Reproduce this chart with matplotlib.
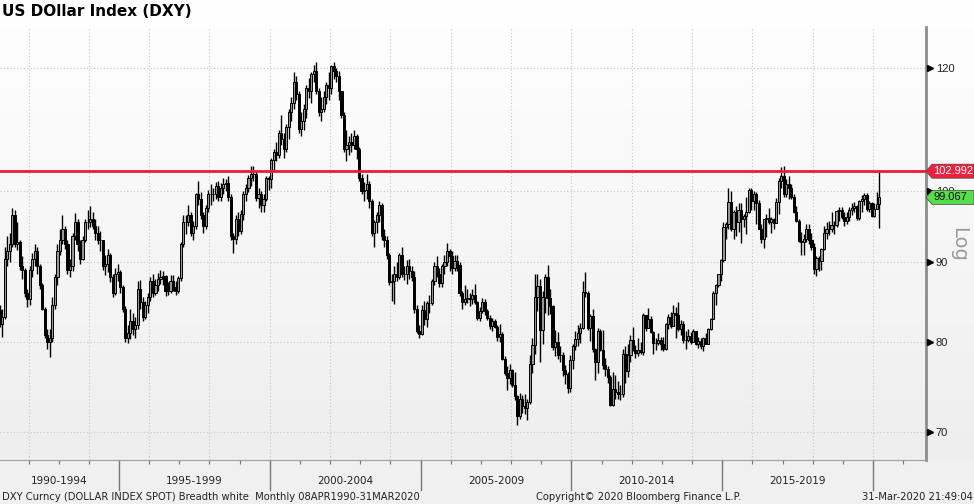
import numpy as np
import matplotlib
matplotlib.use("Agg")
import matplotlib.pyplot as plt
from matplotlib.patches import Polygon
from matplotlib.transforms import blended_transform_factory
from matplotlib.colors import LinearSegmentedColormap
from matplotlib.ticker import NullLocator, NullFormatter, FixedFormatter

# monthly candles, Jan 1991 .. Mar 2020 (open = previous close)
first_year = 1991
first_open = 83.9
close = [
    82.2, 83.0, 90.5, 91.5, 92.5, 96.5, 92.5, 92.8, 89.5, 89.0, 86.0, 85.2,
    89.0, 90.5, 91.5, 89.5, 87.0, 84.0, 80.8, 80.0, 80.5, 84.5, 88.0, 91.5,
    93.0, 94.5, 92.5, 89.0, 89.5, 93.5, 95.5, 92.5, 90.5, 93.0, 95.5, 95.5,
    96.0, 95.0, 94.0, 93.0, 93.0, 89.5, 89.8, 91.0, 88.0, 86.0, 88.5, 88.7,
    86.8, 84.0, 80.5, 81.0, 82.5, 81.5, 82.0, 86.5, 84.8, 83.0, 84.5, 85.5,
    87.5, 86.0, 87.0, 87.8, 88.0, 88.2, 86.2, 86.3, 87.5, 86.8, 86.3, 87.9,
    92.5, 95.5, 95.5, 96.5, 94.0, 95.0, 99.5, 98.8, 96.5, 95.0, 97.5, 99.6,
    99.5, 99.5, 100.8, 99.2, 100.5, 101.0, 101.2, 99.2, 93.5, 93.2, 96.0, 94.2,
    96.6, 99.5, 100.5, 102.0, 102.5, 102.6, 99.0, 99.5, 98.0, 98.8, 102.0, 101.8,
    104.7, 106.0, 105.5, 109.0, 108.0, 106.5, 110.0, 112.5, 114.0, 117.5, 115.5, 109.6,
    111.0, 113.0, 116.5, 116.0, 119.0, 119.5, 116.0, 112.5, 113.0, 115.0, 117.0, 116.5,
    120.3, 119.5, 118.5, 116.0, 112.0, 106.5, 107.0, 107.5, 107.0, 108.5, 106.5, 102.0,
    100.0, 100.2, 101.0, 98.5, 94.0, 95.5, 96.5, 98.0, 93.5, 93.0, 91.0, 87.4,
    87.5, 88.5, 88.0, 91.0, 88.5, 88.5, 89.5, 88.9, 88.0, 84.0, 81.3, 80.9,
    83.8, 82.8, 84.7, 84.7, 87.5, 89.5, 88.5, 87.3, 89.5, 90.0, 91.5, 90.9,
    89.3, 90.2, 89.7, 86.0, 84.8, 85.2, 85.4, 85.2, 85.8, 84.9, 82.9, 83.7,
    84.9, 83.7, 82.9, 81.9, 82.5, 81.8, 80.6, 80.9, 78.0, 76.4, 75.8, 76.7,
    75.0, 73.8, 71.7, 73.5, 72.8, 72.5, 73.2, 77.4, 79.6, 85.5, 86.9, 81.4,
    85.5, 88.0, 85.3, 84.4, 79.4, 80.0, 78.5, 78.4, 76.7, 76.3, 74.7, 77.9,
    79.5, 80.3, 81.0, 81.7, 86.1, 86.0, 81.6, 83.1, 79.1, 77.6, 81.3, 79.0,
    77.3, 76.8, 75.9, 72.9, 74.6, 74.3, 74.0, 74.0, 78.6, 76.6, 78.4, 80.2,
    79.0, 78.7, 79.0, 78.8, 83.2, 81.6, 82.7, 81.2, 79.9, 79.9, 80.2, 79.8,
    79.2, 82.2, 83.0, 81.9, 83.5, 83.2, 81.5, 82.1, 80.2, 80.2, 80.7, 80.0,
    81.3, 79.7, 80.1, 79.5, 80.4, 79.8, 81.5, 82.8, 86.0, 87.0, 88.4, 90.3,
    94.8, 95.3, 98.4, 94.6, 96.9, 95.5, 97.3, 96.0, 96.4, 97.0, 100.2, 98.6,
    99.6, 98.2, 94.6, 93.1, 95.9, 96.1, 95.5, 96.0, 95.4, 98.4, 101.5, 102.2,
    99.5, 101.1, 100.4, 99.1, 97.0, 95.6, 92.9, 92.7, 93.1, 94.5, 93.0, 92.1,
    89.1, 90.6, 90.2, 91.8, 94.0, 94.5, 94.5, 95.1, 95.1, 97.1, 97.3, 96.2,
    95.6, 96.2, 97.3, 97.5, 97.8, 96.1, 98.5, 98.9, 99.4, 97.4, 98.3, 96.4,
    97.4, 98.1, 99.067,
]
high = [
    84.5, 84.0, 92.0, 93.5, 94.0, 97.5, 97.3, 95.5, 93.0, 90.8, 89.2, 86.5,
    89.5, 91.2, 92.5, 92.0, 89.8, 87.3, 84.2, 81.5, 81.5, 85.5, 88.4, 92.5,
    94.5, 96.5, 95.0, 93.0, 90.5, 94.0, 96.8, 96.0, 93.0, 93.5, 96.0, 97.2,
    97.8, 97.0, 96.0, 95.0, 94.2, 93.0, 91.0, 91.8, 91.2, 88.5, 89.2, 89.8,
    89.0, 87.0, 84.3, 82.0, 84.0, 83.5, 83.0, 87.5, 87.7, 85.5, 85.0, 86.0,
    88.0, 88.5, 87.8, 88.6, 89.0, 88.8, 88.3, 87.4, 88.3, 88.3, 87.5, 88.2,
    92.8, 96.5, 96.5, 98.0, 97.0, 95.6, 99.7, 101.5, 99.8, 97.0, 98.0, 100.2,
    101.0, 100.5, 101.3, 101.5, 101.2, 102.0, 101.8, 102.2, 99.5, 94.0, 96.5, 97.0,
    97.2, 100.0, 101.0, 102.4, 103.8, 103.8, 103.0, 100.5, 100.0, 99.5, 102.3, 102.3,
    105.0, 106.5, 107.5, 109.5, 112.0, 109.0, 110.5, 113.0, 115.0, 119.2, 118.5, 116.0,
    112.5, 113.8, 117.0, 118.2, 119.3, 120.5, 121.0, 116.5, 115.0, 116.0, 117.5, 119.2,
    120.5, 121.0, 120.0, 119.5, 116.0, 112.5, 109.5, 108.5, 109.0, 109.5, 108.8, 106.8,
    102.5, 101.3, 102.5, 101.5, 98.8, 95.8, 97.0, 98.5, 98.3, 94.5, 93.5, 91.2,
    88.5, 89.5, 90.0, 91.3, 92.0, 89.5, 90.3, 90.5, 89.5, 88.8, 84.5, 82.0,
    84.5, 85.0, 85.0, 85.7, 87.8, 90.0, 90.8, 89.3, 89.8, 91.0, 92.6, 91.8,
    91.5, 91.0, 91.0, 90.0, 86.3, 87.0, 86.5, 86.0, 86.5, 87.2, 85.0, 84.2,
    85.4, 85.2, 84.0, 83.2, 82.9, 82.8, 82.0, 82.1, 81.2, 78.3, 77.2, 77.4,
    76.9, 76.5, 73.9, 74.2, 73.9, 74.0, 73.5, 78.5, 80.4, 88.5, 88.4, 87.8,
    86.3, 88.5, 89.6, 86.5, 84.5, 81.4, 81.2, 79.5, 78.8, 77.3, 76.5, 78.4,
    79.8, 81.3, 82.0, 82.3, 87.5, 88.7, 86.2, 83.4, 84.0, 79.3, 81.7, 81.5,
    81.4, 78.1, 77.2, 76.2, 76.5, 76.2, 75.5, 75.0, 79.1, 79.5, 79.8, 80.8,
    81.8, 79.6, 80.4, 80.0, 83.5, 83.1, 84.1, 83.1, 81.3, 80.5, 81.1, 80.6,
    80.6, 82.3, 83.4, 83.6, 84.5, 84.2, 84.8, 82.6, 82.5, 81.3, 81.5, 81.2,
    81.5, 81.3, 80.6, 80.5, 80.6, 81.0, 81.6, 82.9, 86.2, 87.1, 88.5, 90.5,
    95.5, 95.5, 100.4, 100.0, 97.3, 97.8, 98.2, 98.3, 96.7, 99.2, 100.5, 100.5,
    100.0, 99.9, 98.7, 95.2, 96.0, 96.7, 97.6, 96.3, 96.1, 99.0, 102.0, 103.6,
    103.8, 101.8, 102.3, 101.0, 99.5, 97.8, 96.0, 94.1, 93.9, 95.2, 95.2, 94.0,
    92.6, 90.9, 90.9, 91.9, 95.0, 95.5, 95.6, 96.9, 95.7, 97.2, 97.7, 97.7,
    96.9, 96.9, 97.7, 98.3, 98.4, 98.0, 98.7, 99.4, 99.7, 99.7, 98.5, 98.4,
    98.2, 99.9, 102.992,
]
low = [
    81.8, 80.6, 82.8, 89.5, 90.0, 92.0, 92.0, 91.6, 89.0, 87.8, 85.5, 84.2,
    84.5, 88.0, 89.5, 88.5, 86.5, 83.8, 80.5, 79.2, 78.2, 80.0, 84.0, 87.0,
    91.0, 92.5, 91.8, 88.5, 88.0, 88.8, 93.0, 91.5, 89.8, 90.3, 92.8, 94.5,
    94.8, 94.5, 93.0, 92.5, 91.5, 89.0, 88.3, 88.7, 87.4, 85.5, 85.8, 87.5,
    86.0, 83.6, 80.0, 79.9, 80.3, 80.8, 80.5, 81.5, 84.0, 82.5, 82.8, 83.5,
    85.0, 85.5, 85.8, 86.3, 87.2, 87.0, 85.6, 85.7, 86.0, 86.3, 85.8, 86.0,
    87.5, 92.0, 93.8, 95.0, 93.5, 93.0, 94.5, 98.0, 96.0, 94.0, 94.5, 97.0,
    98.0, 98.5, 98.8, 98.5, 98.6, 99.5, 100.0, 98.5, 93.0, 91.3, 92.5, 93.6,
    93.8, 95.8, 98.5, 99.8, 100.8, 101.5, 98.6, 97.5, 97.0, 97.0, 98.5, 100.2,
    100.5, 103.0, 104.5, 105.0, 107.0, 105.0, 106.0, 108.0, 111.0, 113.0, 114.5, 109.0,
    108.5, 109.5, 111.5, 114.8, 114.0, 117.5, 115.5, 111.8, 111.0, 112.5, 113.8, 114.5,
    115.5, 118.0, 117.5, 114.5, 111.5, 106.0, 104.5, 105.5, 106.0, 106.5, 104.8, 101.5,
    99.5, 98.5, 98.8, 97.5, 93.5, 92.0, 94.0, 95.5, 93.0, 92.0, 90.5, 87.0,
    85.0, 84.6, 87.5, 87.8, 88.0, 87.7, 87.2, 87.8, 87.5, 83.5, 81.0, 80.4,
    80.8, 82.0, 81.8, 83.5, 84.5, 87.0, 88.0, 86.8, 86.8, 88.5, 89.5, 88.8,
    88.5, 88.8, 88.8, 85.6, 84.0, 84.5, 84.7, 84.3, 84.6, 84.6, 82.6, 82.5,
    83.5, 83.3, 82.6, 81.5, 81.3, 81.7, 80.1, 80.0, 77.9, 76.2, 74.5, 75.2,
    74.8, 73.4, 70.7, 71.4, 72.0, 71.9, 71.3, 73.0, 76.4, 78.6, 83.7, 77.7,
    79.8, 83.5, 83.3, 83.4, 79.0, 78.3, 78.0, 77.7, 76.1, 75.2, 74.2, 74.3,
    76.8, 79.0, 79.5, 79.9, 81.5, 85.5, 81.4, 80.1, 78.8, 75.6, 76.4, 78.9,
    76.9, 76.1, 75.3, 72.8, 72.7, 73.5, 73.5, 73.4, 73.7, 75.3, 75.9, 77.6,
    78.9, 78.1, 78.3, 78.6, 78.5, 81.3, 81.7, 81.0, 78.6, 79.0, 79.6, 79.0,
    78.9, 79.0, 81.5, 81.6, 81.9, 80.5, 81.3, 80.8, 79.9, 79.1, 80.0, 79.8,
    80.1, 79.6, 79.3, 79.2, 78.9, 79.7, 79.8, 81.4, 82.8, 84.5, 86.8, 87.6,
    90.1, 93.2, 94.6, 94.3, 93.1, 93.5, 94.1, 92.6, 94.8, 93.8, 96.8, 97.2,
    97.3, 95.2, 94.5, 92.6, 91.9, 93.4, 95.3, 94.0, 94.6, 95.4, 96.6, 100.5,
    99.2, 99.2, 98.9, 98.8, 96.8, 95.5, 92.8, 91.0, 91.0, 92.7, 92.5, 91.6,
    88.4, 88.25, 88.9, 89.0, 91.6, 93.2, 93.7, 94.1, 93.8, 94.8, 95.7, 95.9,
    95.0, 95.2, 95.7, 96.5, 97.0, 95.8, 95.8, 97.0, 97.9, 97.1, 97.0, 96.3,
    96.2, 97.4, 94.65,
]

period_labels = ["1990-1994", "1995-1999", "2000-2004", "2005-2009", "2010-2014", "2015-2019"]
period_starts = [1990, 1995, 2000, 2005, 2010, 2015]
y_ticks = [70, 80, 90, 100, 120]
level_line = 102.992
last_price = 99.067

W, H = 974, 504
x_lim = (1991.054, 2021.757)
y_lim = (67.16, 127.5)
num_font = "Liberation Sans"

fig = plt.figure(figsize=(W / 100, H / 100), dpi=100, facecolor="#f0f0f0")
pos = [0, 1 - 460 / H, 926 / W, 433 / H]

# light vertical gradient behind title, plot and price scale
bg = fig.add_axes([0, 1 - 460 / H, 1, 460 / H], zorder=0)
grad = LinearSegmentedColormap.from_list("g", ["#eeeeee", "#ffffff"])
bg.imshow(np.linspace(0, 1, 256)[:, None], aspect="auto", cmap=grad, origin="lower", extent=[0, 1, 0, 1])
bg.axis("off")

ax = fig.add_axes(pos, zorder=1)
ax.patch.set_alpha(0)
ax.set_yscale("log")
ax.set_xlim(*x_lim)
ax.set_ylim(*y_lim)

c = np.array(close)
hi = np.array(high)
lo = np.array(low)
o = np.r_[first_open, c[:-1]]
t = first_year + (np.arange(len(c)) + 0.5) / 12
hi = np.maximum(hi, np.maximum(o, c))
lo = np.minimum(lo, np.minimum(o, c))

# grid
for v in y_ticks:
    ax.axhline(v, color="#c8c8c8", lw=0.8, ls=(0, (1, 2)), zorder=1)
for yr in range(1992, 2022, 2):
    ax.axvline(yr, color="#c0c7d6", lw=0.8, ls=(0, (1, 2)), zorder=1)

# candles
ax.vlines(t, lo, hi, color="black", lw=1.0, zorder=3)
up = c >= o
bw = 0.85 / 12
ax.bar(t[up], (c - o)[up], bottom=o[up], width=bw, color="#959595", edgecolor="black", lw=0.7, zorder=3)
ax.bar(t[~up], (o - c)[~up], bottom=c[~up], width=bw, color="black", edgecolor="black", lw=0.7, zorder=3)

ax.axhline(level_line, color="#f0183c", lw=2, zorder=4)

# y axis on the right
ax.yaxis.tick_right()
ax.yaxis.set_minor_locator(NullLocator())
ax.yaxis.set_minor_formatter(NullFormatter())
ax.set_yticks(y_ticks)
ax.yaxis.set_major_formatter(FixedFormatter([str(v) for v in y_ticks]))
ax.tick_params(axis="y", length=0, pad=7, labelsize=8, labelcolor="#222222")
for lab in ax.get_yticklabels():
    lab.set_fontfamily(num_font)
tri = blended_transform_factory(ax.transAxes, ax.transData)
ax.plot([1 + 4 / 926] * len(y_ticks), y_ticks, ls="none", marker=">", ms=4,
        color="black", transform=tri, clip_on=False, zorder=5)

# x axis: yearly ticks, period separators and labels
ax.set_xticks(range(1992, 2022))
ax.set_xticklabels([])
ax.tick_params(axis="x", length=3, color="#777777", width=0.8)
sep = blended_transform_factory(ax.transData, ax.transAxes)
for s in period_starts[1:] + [2020]:
    ax.plot([s, s], [0, -30 / 433], transform=sep, color="#777777", lw=1, clip_on=False)
for s, lab in zip(period_starts, period_labels):
    mid = (max(s, x_lim[0]) + min(s + 5, x_lim[1])) / 2
    ax.text(mid, -21 / 433, lab, transform=sep, ha="center", va="center", fontsize=7.5, color="#222222")

for side in ["top", "left"]:
    ax.spines[side].set_visible(False)
ax.spines["right"].set_color("#8c8c8c")
ax.spines["right"].set_linewidth(2)
ax.spines["bottom"].set_color("#a0a0a0")

# price tags at the right
px = np.log10(y_lim[1] / y_lim[0]) / 433
tag = blended_transform_factory(fig.transFigure, ax.transData)
for val, face, txtc in [(level_line, "#f0203e", "white"), (last_price, "#55dd4a", "#111111")]:
    up_v, dn_v = val * 10 ** (7 * px), val / 10 ** (7 * px)
    verts = [(926 / W, val), (932 / W, up_v), (1.0, up_v), (1.0, dn_v), (932 / W, dn_v)]
    ax.add_patch(Polygon(verts, closed=True, transform=tag, facecolor=face,
                         edgecolor="#444444", lw=0.5, clip_on=False, zorder=10))
    ax.text(933 / W, val, f"{val:.3f}", transform=tag, ha="left", va="center",
            fontsize=8, family=num_font, color=txtc, clip_on=False, zorder=11)

fig.text(959 / W, 1 - 244 / H, "Log", rotation=-90, fontsize=14, color="#9a9a9a", ha="center", va="center")

fig.text(2 / W, 1 - 12 / H, "US DOllar Index (DXY)", fontsize=11, fontweight="bold", va="center", ha="left")
fy = 1 - 497 / H
fig.text(2 / W, fy, "DXY Curncy (DOLLAR INDEX SPOT) Breadth white  Monthly 08APR1990-31MAR2020",
         fontsize=7.2, va="center", ha="left", color="#222222")
fig.text(536 / W, fy, "Copyright\u00a9 2020 Bloomberg Finance L.P.", fontsize=7.2, va="center", ha="left", color="#222222")
fig.text(973 / W, fy, "31-Mar-2020 21:49:04", fontsize=7.2, va="center", ha="right", color="#222222")

fig.savefig("out.png", dpi=100, facecolor=fig.get_facecolor())
